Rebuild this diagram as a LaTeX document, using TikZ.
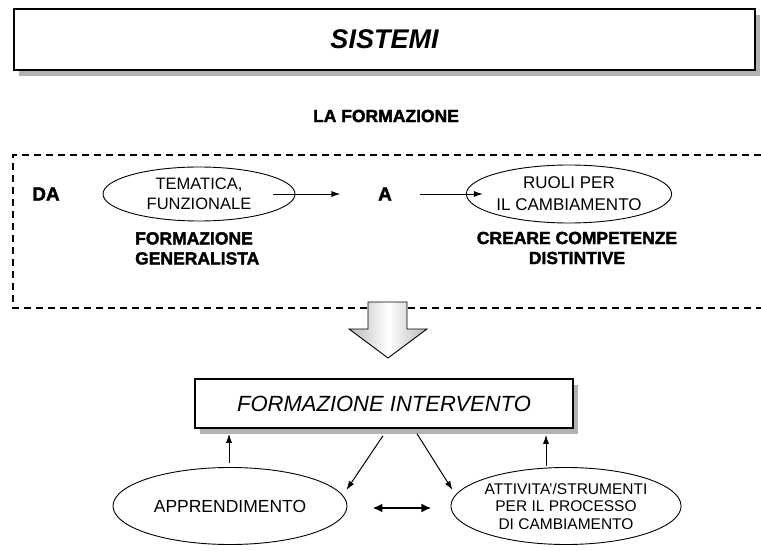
\documentclass[tikz,border=0pt]{standalone}
\usepackage{fontspec}
\setmainfont{Liberation Sans}
\newfontfamily\heavyfont[FakeBold=2]{Liberation Sans Bold}
\usetikzlibrary{shapes.geometric,arrows.meta,calc,shadows}
\begin{document}
\begin{tikzpicture}[x=1pt,y=-1pt,
  arr/.style={-{Latex[length=9pt,width=6pt]}, line width=1pt},
  darr/.style={{Latex[length=10pt,width=9pt]}-{Latex[length=10pt,width=9pt]}, line width=2.6pt},
  titlebox/.style={draw, line width=1.5pt, fill=white, inner sep=0pt,
     drop shadow={shadow xshift=5pt, shadow yshift=-6pt, fill=gray!60, opacity=1}},
  oval/.style={draw, ellipse, line width=0.9pt, inner sep=0pt, align=center},
  heavy/.style={font=\heavyfont\fontsize{17.5}{20}\selectfont, align=center, inner sep=0pt},
  bigarrow/.style={draw, line width=0.9pt, left color=gray!55, right color=gray!55, middle color=white},
  frame/.style={line width=1.6pt, dash pattern=on 7pt off 5pt},
]
\useasboundingbox (0,0) rectangle (761,551);

% title
\node[titlebox, minimum width=741pt, minimum height=61pt,
      font=\bfseries\itshape\fontsize{27}{27}\selectfont] (sis) at (384.5,39.5) {SISTEMI};

\node[heavy] (lf) at (386,116) {LA FORMAZIONE};

% dashed frame
\draw[frame] (761,155) -- (13,155) -- (13,308) -- (761,308);

\node[font=\heavyfont\fontsize{19}{19}\selectfont, inner sep=0pt] (da) at (46,194) {DA};
\node[oval, minimum width=192pt, minimum height=54pt, font=\fontsize{16.5}{20}\selectfont] (e1) at (199,194) {TEMATICA,\\FUNZIONALE};
\node[font=\heavyfont\fontsize{19}{19}\selectfont, inner sep=0pt] (a) at (385,194) {A};
\node[oval, minimum width=192pt, minimum height=58pt, font=\fontsize{17}{22}\selectfont] (e2) at (569,194) {RUOLI PER\\IL CAMBIAMENTO};

\draw[arr] ([xshift=-22pt]e1.east) -- ++(67,0);
\draw[arr] ([xshift=-46pt]e2.west) -- ([xshift=17pt]e2.west);

\node[heavy, align=left, anchor=north west] (fg) at (135,232) {FORMAZIONE\\GENERALISTA};
\node[heavy] (cc) at (577,248) {CREARE COMPETENZE\\DISTINTIVE};

% big arrow
\path[bigarrow] (368,302) -- (407,302) -- (407,329) -- (427,329) -- (388,358) -- (349,329) -- (368,329) -- cycle;

% bottom part
\node[titlebox, minimum width=378pt, minimum height=49pt,
      font=\itshape\fontsize{22}{22}\selectfont] (fi) at (384,403.5) {FORMAZIONE INTERVENTO};

\node[oval, minimum width=234pt, minimum height=77pt, font=\fontsize{17.5}{20}\selectfont] (e3) at (230,506) {APPRENDIMENTO};
\node[oval, minimum width=224pt, minimum height=77pt, font=\fontsize{15.5}{17.5}\selectfont] (e4) at (566,506) {ATTIVITA'/STRUMENTI\\PER IL PROCESSO\\DI CAMBIAMENTO};

\draw[arr] ($(e3.north)+(-1,-4)$) -- ($(e3.north |- fi.south)+(-1,5)$);
\draw[arr] ($(e4.north)+(-20,-1)$) -- ($(e4.north |- fi.south)+(-20,6)$);
\draw[arr] ($(fi.south)+(-1,7)$) -- ($(e3.east)+(-1,-16)$);
\draw[arr] ($(fi.south)+(33,5)$) -- ($(e4.west)+(2,-16)$);
\draw[darr] ($(e3.east)+(25,2)$) -- ($(e4.west)+(-19,2)$);
\end{tikzpicture}
\end{document}
